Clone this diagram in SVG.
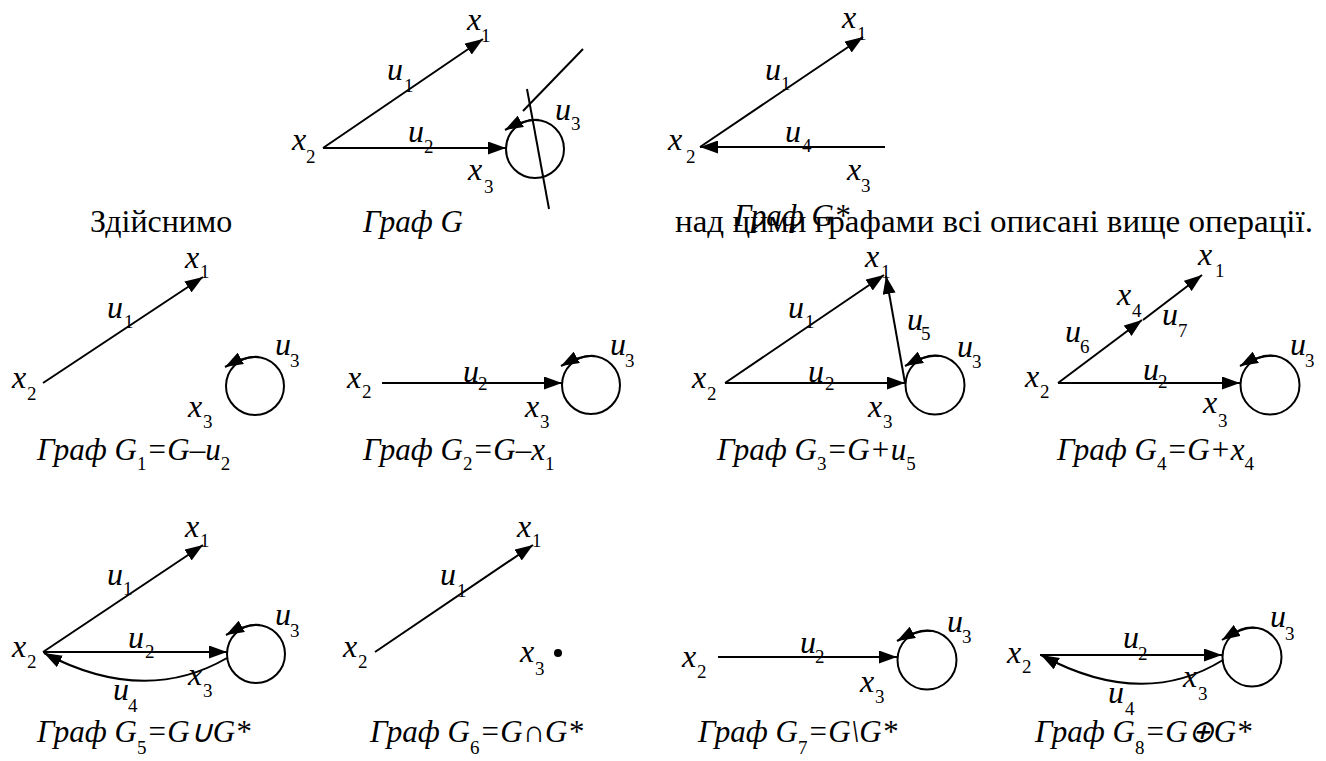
<svg xmlns="http://www.w3.org/2000/svg" width="1326" height="761" viewBox="0 0 1326 761">
<style>
.e{stroke:#000;stroke-width:2;fill:none}
.a{marker-end:url(#ah)}
.m{font-family:"Liberation Serif","Times New Roman",serif;font-style:italic;font-size:32px;fill:#000}
.s{font-style:normal;font-size:19px}
.cap{font-family:"Liberation Serif","Times New Roman",serif;font-style:italic;font-size:31px;fill:#000}
.cs{font-style:normal;font-size:19px}
.body{font-family:"Liberation Serif","Times New Roman",serif;font-size:32px;fill:#000}
</style>
<defs>
<marker id="ah" markerUnits="userSpaceOnUse" markerWidth="18" markerHeight="13" refX="18" refY="6.5" orient="auto"><path d="M0,0 L18,6.5 L0,13 z" fill="#000"/></marker>
</defs>
<rect width="1326" height="761" fill="#fff"/>

<g id="connectors">
<!-- G -->
<line class="e a" x1="323" y1="148" x2="483" y2="39"/>
<line class="e a" x1="323" y1="148" x2="506" y2="148"/>
<circle class="e" cx="535" cy="149" r="29"/>
<path class="e a" d="M539,120 Q527,118 505,130"/>
<line class="e" x1="583" y1="49" x2="523" y2="111"/>
<line class="e" x1="527" y1="89" x2="549" y2="209"/>
<!-- G* -->
<line class="e a" x1="700" y1="147" x2="863" y2="37"/>
<line class="e a" x1="885" y1="147" x2="700" y2="147"/>
<!-- G1 -->
<line class="e a" x1="43" y1="383" x2="203" y2="277"/>
<circle class="e" cx="255" cy="386" r="29"/>
<path class="e a" d="M259,357 Q247,355 225,367"/>
<!-- G2 -->
<line class="e a" x1="382" y1="383" x2="562" y2="383"/>
<circle class="e" cx="591" cy="385" r="29"/>
<path class="e a" d="M595,356 Q583,354 561,366"/>
<!-- G3 -->
<line class="e a" x1="725" y1="383" x2="884" y2="275"/>
<line class="e a" x1="725" y1="383" x2="905" y2="383"/>
<line class="e a" x1="905" y1="383" x2="886" y2="276"/>
<circle class="e" cx="935" cy="385" r="29.5"/>
<path class="e a" d="M939,356 Q927,354 905,366"/>
<!-- G4 -->
<line class="e a" x1="1058" y1="383" x2="1142" y2="320"/>
<line class="e a" x1="1143" y1="320" x2="1202" y2="275"/>
<line class="e a" x1="1058" y1="383" x2="1240" y2="383"/>
<circle class="e" cx="1270" cy="385" r="29.5"/>
<path class="e a" d="M1274,356 Q1262,354 1240,366"/>
<!-- G5 -->
<line class="e a" x1="43" y1="652" x2="203" y2="545"/>
<line class="e a" x1="43" y1="652" x2="227" y2="652"/>
<path class="e a" d="M227,658 Q144,706 44,653"/>
<circle class="e" cx="256" cy="654" r="29"/>
<path class="e a" d="M260,625 Q248,623 226,635"/>
<!-- G6 -->
<line class="e a" x1="375" y1="652" x2="533" y2="545"/>
<!-- G7 -->
<line class="e a" x1="718" y1="657" x2="897" y2="657"/>
<circle class="e" cx="927" cy="660" r="29.5"/>
<path class="e a" d="M931,631 Q919,629 897,641"/>
<!-- G8 -->
<line class="e a" x1="1040" y1="655" x2="1222" y2="655"/>
<path class="e a" d="M1223,660 Q1142,710 1041,655"/>
<circle class="e" cx="1252" cy="657" r="29.5"/>
<path class="e a" d="M1256,628 Q1244,626 1222,640"/>
</g>

<g id="graph-G">
<text class="m" x="467" y="30">x<tspan class="s" x="481" y="42">1</tspan></text>
<text class="m" x="387" y="80">u<tspan class="s" x="404" y="92">1</tspan></text>
<text class="m" x="408" y="142">u<tspan class="s" x="424" y="153">2</tspan></text>
<text class="m" x="555" y="120">u<tspan class="s" x="571" y="130">3</tspan></text>
<text class="m" x="292" y="150">x<tspan class="s" x="306" y="163">2</tspan></text>
<text class="m" x="468" y="180">x<tspan class="s" x="484" y="193">3</tspan></text>
<text class="cap" x="363" y="232">Граф G</text>
</g>

<g id="graph-Gstar">
<text class="m" x="842" y="28">x<tspan class="s" x="857" y="40">1</tspan></text>
<text class="m" x="765" y="80">u<tspan class="s" x="781" y="90">1</tspan></text>
<text class="m" x="785" y="142">u<tspan class="s" x="802" y="152">4</tspan></text>
<text class="m" x="668" y="150">x<tspan class="s" x="686" y="163">2</tspan></text>
<text class="m" x="847" y="180">x<tspan class="s" x="861" y="192">3</tspan></text>
<text class="cap" x="734" y="226">Граф G*</text>
</g>

<g id="body-text">
<text class="body" x="90" y="232">Здійснимо</text>
<text class="body" x="675" y="232" textLength="638" lengthAdjust="spacingAndGlyphs">над цими графами всі описані вище операції.</text>
</g>

<g id="graph-G1">
<text class="m" x="185" y="268">x<tspan class="s" x="200" y="278">1</tspan></text>
<text class="m" x="107" y="318">u<tspan class="s" x="124" y="328">1</tspan></text>
<text class="m" x="275" y="355">u<tspan class="s" x="290" y="367">3</tspan></text>
<text class="m" x="12" y="388">x<tspan class="s" x="27" y="400">2</tspan></text>
<text class="m" x="188" y="417">x<tspan class="s" x="203" y="428">3</tspan></text>
<text class="cap" x="37" y="460">Граф G<tspan class="cs" dy="10">1</tspan><tspan dy="-10">=G–u</tspan><tspan class="cs" dy="10">2</tspan></text>
</g>

<g id="graph-G2">
<text class="m" x="347" y="388">x<tspan class="s" x="362" y="398">2</tspan></text>
<text class="m" x="463" y="382">u<tspan class="s" x="478" y="390">2</tspan></text>
<text class="m" x="525" y="417">x<tspan class="s" x="540" y="428">3</tspan></text>
<text class="m" x="610" y="355">u<tspan class="s" x="625" y="367">3</tspan></text>
<text class="cap" x="363" y="460">Граф G<tspan class="cs" dy="10">2</tspan><tspan dy="-10">=G–x</tspan><tspan class="cs" dy="10">1</tspan></text>
</g>

<g id="graph-G3">
<text class="m" x="865" y="267">x<tspan class="s" x="881" y="278">1</tspan></text>
<text class="m" x="788" y="318">u<tspan class="s" x="805" y="328">1</tspan></text>
<text class="m" x="907" y="330">u<tspan class="s" x="921" y="340">5</tspan></text>
<text class="m" x="957" y="357">u<tspan class="s" x="972" y="368">3</tspan></text>
<text class="m" x="808" y="382">u<tspan class="s" x="825" y="390">2</tspan></text>
<text class="m" x="692" y="388">x<tspan class="s" x="707" y="400">2</tspan></text>
<text class="m" x="868" y="417">x<tspan class="s" x="883" y="428">3</tspan></text>
<text class="cap" x="717" y="460">Граф G<tspan class="cs" dy="10">3</tspan><tspan dy="-10">=G+u</tspan><tspan class="cs" dy="10">5</tspan></text>
</g>

<g id="graph-G4">
<text class="m" x="1198" y="265">x<tspan class="s" x="1215" y="277">1</tspan></text>
<text class="m" x="1117" y="305">x<tspan class="s" x="1132" y="317">4</tspan></text>
<text class="m" x="1065" y="342">u<tspan class="s" x="1080" y="353">6</tspan></text>
<text class="m" x="1162" y="325">u<tspan class="s" x="1178" y="337">7</tspan></text>
<text class="m" x="1143" y="380">u<tspan class="s" x="1158" y="388">2</tspan></text>
<text class="m" x="1290" y="355">u<tspan class="s" x="1305" y="367">3</tspan></text>
<text class="m" x="1025" y="387">x<tspan class="s" x="1040" y="398">2</tspan></text>
<text class="m" x="1203" y="413">x<tspan class="s" x="1218" y="427">3</tspan></text>
<text class="cap" x="1057" y="460">Граф G<tspan class="cs" dy="10">4</tspan><tspan dy="-10">=G+x</tspan><tspan class="cs" dy="10">4</tspan></text>
</g>

<g id="graph-G5">
<text class="m" x="185" y="537">x<tspan class="s" x="200" y="547">1</tspan></text>
<text class="m" x="107" y="585">u<tspan class="s" x="123" y="595">1</tspan></text>
<text class="m" x="128" y="648">u<tspan class="s" x="145" y="658">2</tspan></text>
<text class="m" x="275" y="625">u<tspan class="s" x="290" y="637">3</tspan></text>
<text class="m" x="12" y="657">x<tspan class="s" x="27" y="668">2</tspan></text>
<text class="m" x="188" y="685">x<tspan class="s" x="203" y="697">3</tspan></text>
<text class="m" x="113" y="700">u<tspan class="s" x="128" y="712">4</tspan></text>
<text class="cap" x="37" y="742">Граф G<tspan class="cs" dy="12">5</tspan><tspan dy="-12">=G∪G*</tspan></text>
</g>

<g id="graph-G6">
<text class="m" x="517" y="537">x<tspan class="s" x="532" y="547">1</tspan></text>
<text class="m" x="440" y="585">u<tspan class="s" x="457" y="597">1</tspan></text>
<text class="m" x="343" y="657">x<tspan class="s" x="358" y="668">2</tspan></text>
<text class="m" x="520" y="662">x<tspan class="s" x="535" y="675">3</tspan></text>
<circle cx="558" cy="653" r="4" fill="#000"/>
<text class="cap" x="370" y="742">Граф G<tspan class="cs" dy="12">6</tspan><tspan dy="-12">=G∩G*</tspan></text>
</g>

<g id="graph-G7">
<text class="m" x="682" y="667">x<tspan class="s" x="697" y="678">2</tspan></text>
<text class="m" x="800" y="653">u<tspan class="s" x="815" y="663">2</tspan></text>
<text class="m" x="860" y="692">x<tspan class="s" x="875" y="703">3</tspan></text>
<text class="m" x="947" y="632">u<tspan class="s" x="962" y="643">3</tspan></text>
<text class="cap" x="698" y="742">Граф G<tspan class="cs" dy="12">7</tspan><tspan dy="-12">=G\G*</tspan></text>
</g>

<g id="graph-G8">
<text class="m" x="1007" y="663">x<tspan class="s" x="1022" y="673">2</tspan></text>
<text class="m" x="1123" y="648">u<tspan class="s" x="1138" y="660">2</tspan></text>
<text class="m" x="1183" y="687">x<tspan class="s" x="1198" y="700">3</tspan></text>
<text class="m" x="1108" y="703">u<tspan class="s" x="1125" y="715">4</tspan></text>
<text class="m" x="1270" y="627">u<tspan class="s" x="1285" y="640">3</tspan></text>
<text class="cap" x="1035" y="742">Граф G<tspan class="cs" dy="12">8</tspan><tspan dy="-12">=G⊕G*</tspan></text>
</g>
</svg>
